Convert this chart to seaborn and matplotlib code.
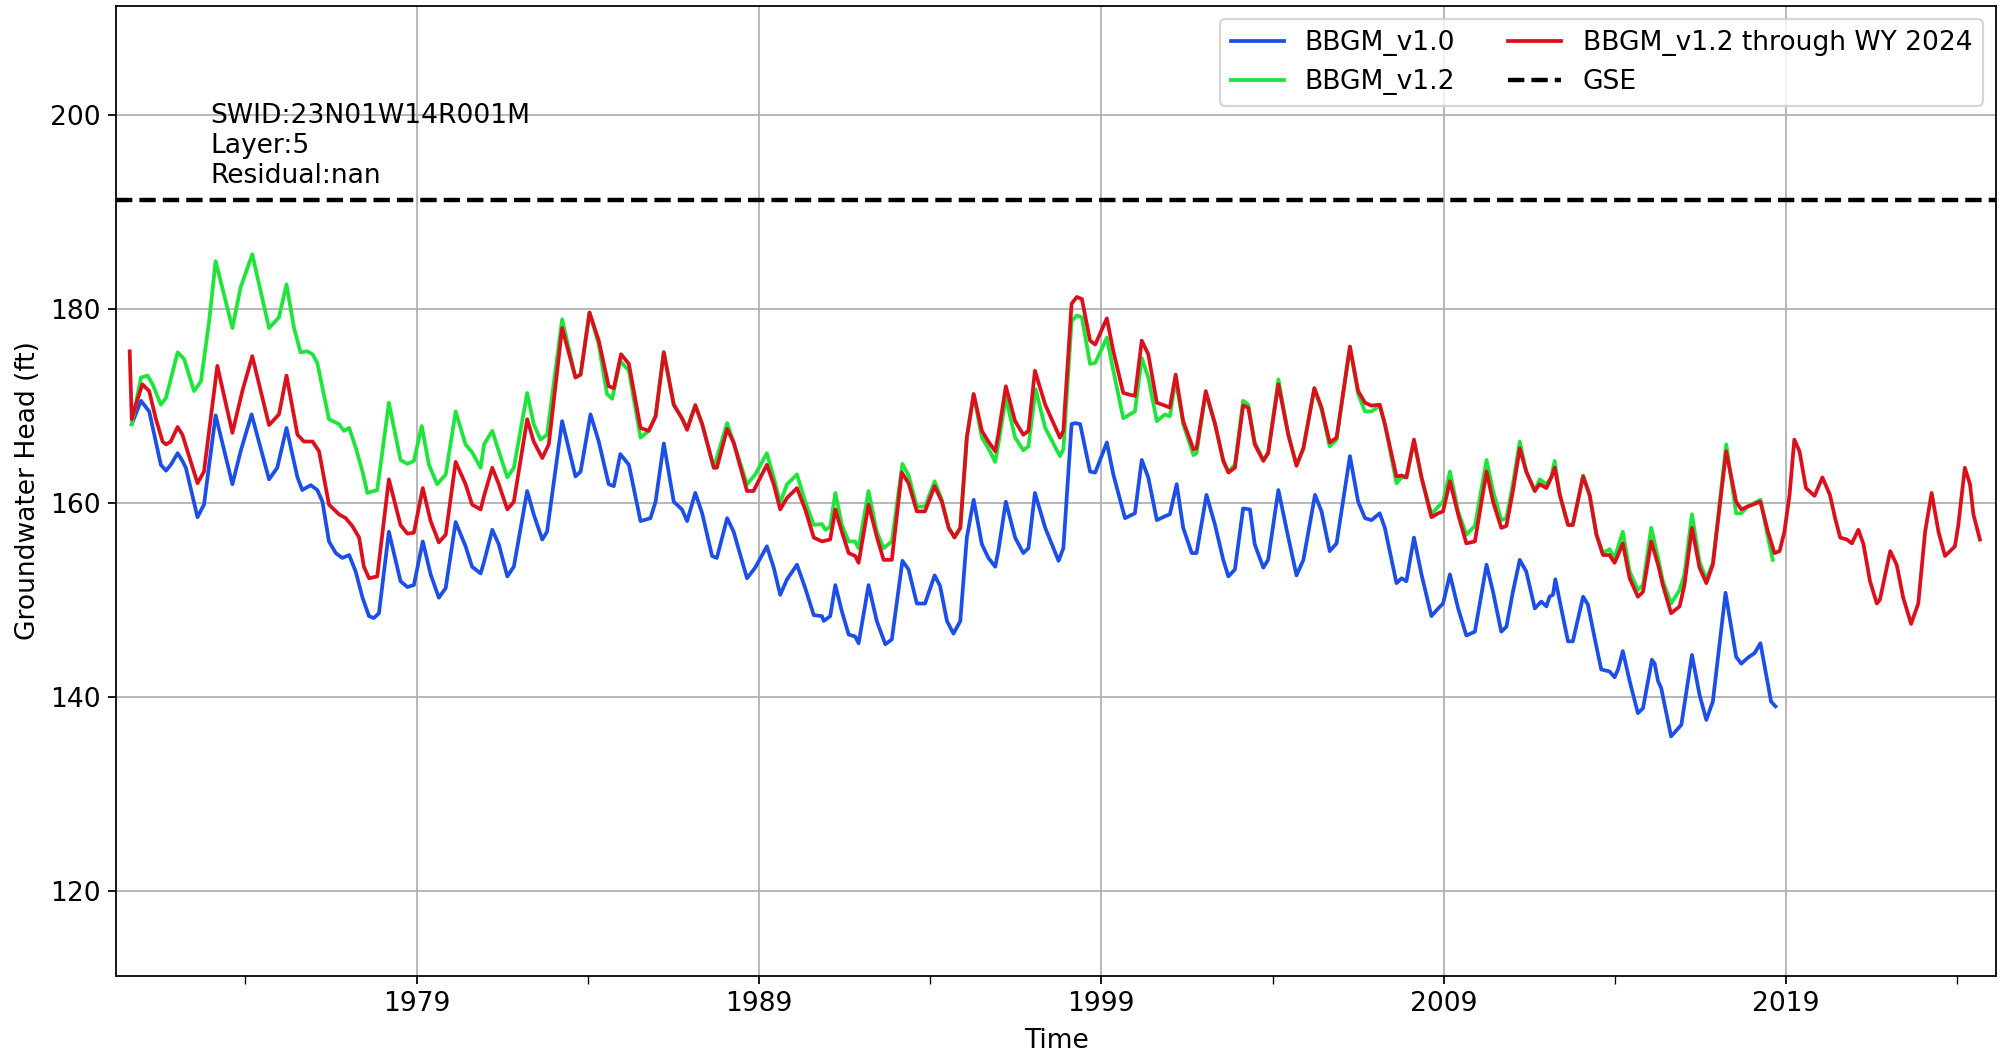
import numpy as np
import pandas as pd
import matplotlib
matplotlib.use("Agg")
import matplotlib.pyplot as plt
import seaborn as sns
from matplotlib.ticker import FixedLocator

# ---------------- data (decimal year, head in ft) ----------------
v10_t = [1970.68, 1970.95, 1971.19, 1971.53, 1971.68, 1971.82, 1972.02, 1972.16, 1972.26, 1972.60,
         1972.79, 1973.13, 1973.62, 1973.86, 1974.18, 1974.69, 1974.93, 1975.20, 1975.52, 1975.66,
         1975.91, 1976.10, 1976.25, 1976.44, 1976.64, 1976.83, 1977.03, 1977.22, 1977.42, 1977.61,
         1977.75, 1977.90, 1978.19, 1978.53, 1978.73, 1978.92, 1979.18, 1979.41, 1979.65, 1979.85,
         1980.14, 1980.43, 1980.62, 1980.87, 1980.97, 1981.21, 1981.40, 1981.65, 1981.84, 1982.23,
         1982.42, 1982.67, 1982.81, 1983.25, 1983.64, 1983.79, 1984.08, 1984.32, 1984.61, 1984.76,
         1984.95, 1985.20, 1985.54, 1985.83, 1985.98, 1986.22, 1986.51, 1986.75, 1986.90, 1987.14,
         1987.34, 1987.63, 1987.77, 1988.07, 1988.26, 1988.65, 1988.89, 1989.23, 1989.43, 1989.62,
         1989.82, 1990.11, 1990.35, 1990.60, 1990.84, 1990.89, 1991.08, 1991.23, 1991.42, 1991.62,
         1991.81, 1991.91, 1992.20, 1992.44, 1992.69, 1992.88, 1993.19, 1993.37, 1993.61, 1993.85,
         1994.13, 1994.29, 1994.49, 1994.68, 1994.88, 1995.07, 1995.27, 1995.51, 1995.70, 1995.90,
         1995.99, 1996.21, 1996.48, 1996.72, 1996.87, 1997.06, 1997.36, 1997.75, 1997.89, 1998.13,
         1998.23, 1998.38, 1998.67, 1998.82, 1999.16, 1999.35, 1999.69, 1999.98, 2000.18, 2000.37,
         2000.62, 2000.86, 2001.00, 2001.20, 2001.39, 2001.64, 2001.78, 2002.07, 2002.32, 2002.56,
         2002.71, 2002.90, 2003.14, 2003.34, 2003.48, 2003.73, 2003.87, 2004.17, 2004.46, 2004.70,
         2004.90, 2005.24, 2005.43, 2005.67, 2005.87, 2006.26, 2006.50, 2006.70, 2006.89, 2007.13,
         2007.28, 2007.62, 2007.77, 2007.91, 2008.13, 2008.35, 2008.64, 2008.84, 2008.98, 2009.18,
         2009.42, 2009.66, 2009.91, 2010.25, 2010.44, 2010.68, 2010.83, 2011.02, 2011.22, 2011.41,
         2011.66, 2011.85, 2012.00, 2012.09, 2012.19, 2012.26, 2012.39, 2012.63, 2012.77, 2013.07,
         2013.21, 2013.41, 2013.60, 2013.84, 2013.99, 2014.09, 2014.23, 2014.43, 2014.67, 2014.82,
         2015.08, 2015.16, 2015.26, 2015.35, 2015.64, 2015.84, 2015.94, 2016.25, 2016.47, 2016.67,
         2016.86, 2017.23, 2017.54, 2017.69, 2017.88, 2018.08, 2018.25, 2018.47, 2018.56, 2018.69]
v10_h = [168.1, 170.5, 169.4, 163.9, 163.3, 163.9, 165.1, 164.3, 163.6, 158.5,
         159.8, 169.0, 161.9, 165.3, 169.1, 162.4, 163.6, 167.7, 162.6, 161.3,
         161.8, 161.3, 160.1, 156.0, 154.8, 154.3, 154.6, 152.9, 150.2, 148.3,
         148.1, 148.6, 157.0, 151.9, 151.3, 151.5, 156.0, 152.6, 150.2, 151.2,
         158.0, 155.5, 153.4, 152.7, 153.9, 157.2, 155.7, 152.4, 153.4, 161.2,
         158.8, 156.2, 157.0, 168.4, 162.7, 163.2, 169.1, 166.3, 161.9, 161.7,
         165.0, 163.9, 158.1, 158.4, 160.1, 166.1, 160.1, 159.3, 158.1, 161.0,
         158.9, 154.5, 154.3, 158.4, 157.0, 152.2, 153.3, 155.5, 153.3, 150.5,
         152.1, 153.6, 151.2, 148.4, 148.3, 147.8, 148.3, 151.5, 148.8, 146.4,
         146.2, 145.5, 151.5, 147.8, 145.4, 145.9, 154.0, 153.1, 149.6, 149.6,
         152.5, 151.4, 147.8, 146.5, 147.8, 156.4, 160.3, 155.7, 154.3, 153.4,
         155.0, 160.1, 156.4, 154.8, 155.3, 161.0, 157.4, 154.0, 155.3, 168.1,
         168.2, 168.1, 163.2, 163.1, 166.2, 162.9, 158.4, 158.9, 164.4, 162.6,
         158.2, 158.6, 158.8, 161.9, 157.4, 154.8, 154.8, 160.8, 157.7, 154.1,
         152.4, 153.1, 159.4, 159.3, 155.7, 153.3, 154.1, 161.3, 156.4, 152.5,
         154.1, 160.8, 159.1, 155.0, 155.8, 164.8, 160.1, 158.4, 158.2, 158.9,
         157.4, 151.7, 152.2, 151.9, 156.4, 152.6, 148.3, 149.1, 149.6, 152.6,
         149.1, 146.3, 146.7, 153.6, 150.8, 146.7, 147.2, 150.8, 154.1, 152.9,
         149.1, 149.8, 149.3, 150.3, 150.5, 152.1, 149.8, 145.7, 145.7, 150.3,
         149.5, 146.0, 142.8, 142.6, 142.0, 142.8, 144.7, 141.6, 138.3, 138.8,
         143.8, 143.4, 141.6, 140.9, 135.9, 136.7, 137.1, 144.3, 140.2, 137.6,
         139.5, 150.7, 144.1, 143.4, 144.0, 144.5, 145.5, 141.2, 139.5, 139.0]

v12_t = [1970.68, 1970.95, 1971.14, 1971.29, 1971.53, 1971.68, 1972.02, 1972.21, 1972.50, 1972.70,
         1972.94, 1973.13, 1973.62, 1973.86, 1974.20, 1974.69, 1974.98, 1975.20, 1975.42, 1975.61,
         1975.81, 1975.96, 1976.10, 1976.44, 1976.73, 1976.88, 1977.03, 1977.22, 1977.42, 1977.56,
         1977.85, 1978.19, 1978.53, 1978.73, 1978.92, 1979.15, 1979.36, 1979.60, 1979.85, 1980.14,
         1980.43, 1980.62, 1980.87, 1980.97, 1981.21, 1981.40, 1981.65, 1981.84, 1982.23, 1982.42,
         1982.62, 1982.81, 1983.25, 1983.64, 1983.79, 1984.05, 1984.32, 1984.56, 1984.71, 1984.95,
         1985.20, 1985.54, 1985.78, 1985.98, 1986.22, 1986.51, 1986.75, 1986.90, 1987.14, 1987.34,
         1987.68, 1988.07, 1988.26, 1988.65, 1988.89, 1989.23, 1989.43, 1989.62, 1989.82, 1990.11,
         1990.35, 1990.60, 1990.84, 1990.94, 1991.08, 1991.23, 1991.42, 1991.62, 1991.81, 1991.91,
         1992.20, 1992.44, 1992.64, 1992.88, 1993.19, 1993.37, 1993.61, 1993.85, 1994.13, 1994.34,
         1994.54, 1994.71, 1994.88, 1995.07, 1995.27, 1995.51, 1995.70, 1995.90, 1995.99, 1996.21,
         1996.48, 1996.72, 1996.87, 1997.08, 1997.36, 1997.79, 1997.89, 1998.13, 1998.28, 1998.43,
         1998.67, 1998.82, 1999.16, 1999.35, 1999.64, 1999.98, 2000.18, 2000.37, 2000.62, 2000.86,
         2001.00, 2001.17, 2001.39, 2001.69, 2001.78, 2002.05, 2002.32, 2002.56, 2002.71, 2002.90,
         2003.14, 2003.29, 2003.48, 2003.73, 2003.87, 2004.17, 2004.46, 2004.70, 2004.90, 2005.22,
         2005.43, 2005.67, 2005.87, 2006.26, 2006.50, 2006.70, 2006.89, 2007.13, 2007.28, 2007.62,
         2007.77, 2007.91, 2008.13, 2008.35, 2008.64, 2008.84, 2008.98, 2009.18, 2009.42, 2009.66,
         2009.91, 2010.25, 2010.44, 2010.68, 2010.83, 2011.02, 2011.22, 2011.41, 2011.66, 2011.80,
         2012.00, 2012.14, 2012.24, 2012.39, 2012.63, 2012.77, 2013.07, 2013.26, 2013.46, 2013.65,
         2013.84, 2013.99, 2014.23, 2014.43, 2014.67, 2014.82, 2015.06, 2015.26, 2015.40, 2015.64,
         2015.89, 2016.03, 2016.25, 2016.47, 2016.67, 2016.86, 2017.25, 2017.54, 2017.69, 2017.88,
         2018.25, 2018.47, 2018.61]
v12_h = [168.1, 172.9, 173.1, 172.2, 170.1, 170.8, 175.5, 174.8, 171.5, 172.5,
         178.7, 184.9, 178.0, 182.2, 185.6, 178.0, 179.1, 182.5, 178.0, 175.5,
         175.6, 175.3, 174.4, 168.6, 168.1, 167.4, 167.7, 165.7, 163.2, 161.0,
         161.3, 170.3, 164.4, 164.0, 164.3, 167.9, 163.9, 161.9, 162.9, 169.4,
         166.0, 165.2, 163.6, 166.0, 167.4, 165.3, 162.6, 163.6, 171.3, 168.1,
         166.5, 167.0, 178.9, 172.9, 173.2, 179.6, 176.3, 171.2, 170.7, 174.6,
         173.6, 166.7, 167.4, 168.9, 175.5, 170.1, 168.7, 167.7, 170.1, 168.1,
         163.6, 168.2, 166.2, 161.9, 162.9, 165.1, 162.6, 160.0, 161.9, 162.9,
         160.1, 157.7, 157.8, 157.2, 157.5, 161.0, 157.7, 156.0, 156.0, 155.3,
         161.2, 157.0, 155.3, 156.0, 164.0, 162.8, 159.6, 159.6, 162.2, 160.3,
         157.4, 156.5, 157.4, 166.7, 171.2, 166.7, 165.6, 164.2, 166.0, 170.8,
         166.7, 165.4, 165.8, 171.7, 167.7, 164.8, 165.5, 178.7, 179.3, 179.1,
         174.3, 174.4, 177.0, 173.6, 168.7, 169.4, 174.9, 172.9, 168.4, 169.1,
         168.9, 172.7, 168.1, 164.9, 165.1, 171.3, 168.1, 164.4, 163.2, 163.9,
         170.5, 170.1, 166.2, 164.4, 165.1, 172.7, 167.0, 163.9, 165.6, 171.8,
         169.6, 165.8, 166.5, 176.0, 171.2, 169.4, 169.4, 170.0, 168.1, 162.0,
         162.6, 162.6, 166.3, 162.6, 158.8, 159.6, 160.1, 163.2, 159.1, 156.7,
         157.6, 164.4, 161.2, 158.2, 158.4, 161.9, 166.3, 163.2, 161.2, 162.4,
         161.9, 162.6, 164.3, 160.8, 157.7, 157.7, 162.8, 160.8, 156.7, 154.8,
         155.2, 154.3, 157.0, 152.9, 151.0, 151.5, 157.4, 154.3, 151.9, 149.6,
         151.0, 152.6, 158.8, 153.9, 152.1, 153.8, 166.0, 158.9, 158.9, 159.6,
         160.3, 156.4, 154.1]

wy24_t = [1970.62, 1970.68, 1970.80, 1970.99, 1971.19, 1971.38, 1971.58, 1971.68, 1971.82, 1972.02,
          1972.16, 1972.31, 1972.60, 1972.79, 1973.18, 1973.62, 1973.91, 1974.20, 1974.69, 1974.98,
          1975.20, 1975.52, 1975.71, 1975.96, 1976.15, 1976.44, 1976.73, 1976.93, 1977.12, 1977.32,
          1977.46, 1977.61, 1977.85, 1978.19, 1978.53, 1978.73, 1978.92, 1979.18, 1979.41, 1979.65,
          1979.85, 1980.14, 1980.43, 1980.62, 1980.87, 1980.97, 1981.21, 1981.40, 1981.65, 1981.84,
          1982.23, 1982.42, 1982.67, 1982.86, 1983.25, 1983.64, 1983.79, 1984.05, 1984.32, 1984.61,
          1984.76, 1984.97, 1985.20, 1985.54, 1985.78, 1985.98, 1986.22, 1986.51, 1986.75, 1986.90,
          1987.14, 1987.34, 1987.68, 1987.77, 1988.07, 1988.26, 1988.65, 1988.84, 1989.23, 1989.43,
          1989.62, 1989.82, 1990.11, 1990.35, 1990.60, 1990.84, 1991.08, 1991.23, 1991.42, 1991.62,
          1991.81, 1991.91, 1992.20, 1992.44, 1992.64, 1992.88, 1993.17, 1993.37, 1993.61, 1993.85,
          1994.13, 1994.34, 1994.54, 1994.71, 1994.88, 1995.07, 1995.27, 1995.51, 1995.70, 1995.90,
          1995.99, 1996.21, 1996.48, 1996.72, 1996.87, 1997.06, 1997.36, 1997.79, 1997.89, 1998.13,
          1998.28, 1998.43, 1998.67, 1998.82, 1999.16, 1999.35, 1999.64, 1999.98, 2000.18, 2000.37,
          2000.62, 2000.86, 2001.00, 2001.17, 2001.39, 2001.69, 2001.78, 2002.05, 2002.32, 2002.56,
          2002.71, 2002.90, 2003.14, 2003.29, 2003.48, 2003.73, 2003.87, 2004.17, 2004.46, 2004.70,
          2004.90, 2005.22, 2005.43, 2005.67, 2005.87, 2006.26, 2006.50, 2006.70, 2006.89, 2007.13,
          2007.28, 2007.62, 2007.77, 2007.91, 2008.13, 2008.35, 2008.64, 2008.84, 2008.98, 2009.18,
          2009.42, 2009.66, 2009.91, 2010.25, 2010.44, 2010.68, 2010.83, 2011.02, 2011.22, 2011.41,
          2011.66, 2011.80, 2012.00, 2012.14, 2012.24, 2012.39, 2012.63, 2012.77, 2013.07, 2013.26,
          2013.46, 2013.65, 2013.84, 2013.99, 2014.09, 2014.23, 2014.43, 2014.67, 2014.82, 2015.06,
          2015.26, 2015.40, 2015.64, 2015.89, 2016.03, 2016.25, 2016.47, 2016.67, 2016.86, 2017.25,
          2017.54, 2017.69, 2017.88, 2018.25, 2018.47, 2018.66, 2018.81, 2018.95, 2019.10, 2019.24,
          2019.39, 2019.58, 2019.83, 2020.06, 2020.28, 2020.43, 2020.58, 2020.77, 2020.92, 2021.11,
          2021.26, 2021.45, 2021.65, 2021.74, 2022.04, 2022.23, 2022.42, 2022.65, 2022.86, 2023.06,
          2023.25, 2023.45, 2023.64, 2023.79, 2023.93, 2024.03, 2024.22, 2024.37, 2024.47, 2024.66]
wy24_h = [175.6, 168.6, 170.1, 172.2, 171.5, 168.7, 166.3, 166.0, 166.3, 167.8,
          167.0, 165.3, 162.0, 163.2, 174.1, 167.2, 171.5, 175.1, 168.0, 169.1,
          173.1, 167.0, 166.3, 166.3, 165.3, 159.8, 158.8, 158.4, 157.6, 156.4,
          153.4, 152.2, 152.4, 162.4, 157.7, 156.8, 156.9, 161.5, 158.1, 155.9,
          156.7, 164.2, 161.9, 159.8, 159.3, 160.7, 163.6, 161.9, 159.3, 160.1,
          168.6, 166.3, 164.6, 166.0, 178.0, 172.9, 173.2, 179.6, 176.7, 172.0,
          171.8, 175.3, 174.3, 167.7, 167.4, 168.9, 175.5, 170.1, 168.7, 167.5,
          170.0, 168.1, 163.6, 163.6, 167.6, 166.2, 161.2, 161.2, 163.9, 161.9,
          159.3, 160.5, 161.5, 159.3, 156.4, 156.0, 156.2, 159.3, 157.0, 154.8,
          154.5, 153.8, 159.8, 156.5, 154.1, 154.1, 163.1, 162.0, 159.1, 159.1,
          161.7, 160.1, 157.4, 156.4, 157.4, 166.7, 171.2, 167.4, 166.3, 165.3,
          167.0, 172.0, 168.4, 167.0, 167.4, 173.6, 170.1, 166.7, 167.4, 180.5,
          181.2, 181.0, 176.7, 176.3, 179.0, 175.6, 171.3, 171.0, 176.7, 175.3,
          170.3, 170.0, 169.8, 173.2, 168.4, 165.5, 165.6, 171.5, 168.1, 164.3,
          163.1, 163.6, 170.0, 169.8, 166.0, 164.3, 165.1, 172.2, 167.0, 163.8,
          165.6, 171.8, 169.8, 166.2, 166.7, 176.1, 171.5, 170.3, 170.0, 170.1,
          168.1, 162.7, 162.8, 162.6, 166.5, 162.6, 158.5, 158.9, 159.1, 162.2,
          158.8, 155.8, 156.0, 163.2, 160.1, 157.4, 157.6, 161.2, 165.6, 163.2,
          161.2, 161.9, 161.5, 162.6, 163.6, 160.8, 157.7, 157.7, 162.7, 160.8,
          156.7, 154.6, 154.6, 153.8, 154.6, 155.8, 152.2, 150.3, 150.8, 156.0,
          153.6, 151.5, 148.6, 149.3, 151.5, 157.4, 153.3, 151.7, 153.6, 165.3,
          160.1, 159.3, 159.6, 160.1, 157.0, 154.8, 155.0, 157.0, 160.8, 166.5,
          165.3, 161.5, 160.7, 162.6, 160.8, 158.4, 156.4, 156.2, 155.8, 157.2,
          155.7, 151.9, 149.6, 150.0, 155.0, 153.6, 150.2, 147.5, 149.6, 157.0,
          161.0, 157.0, 154.5, 155.0, 155.5, 157.7, 163.6, 161.9, 158.8, 156.2]

gse = 191.2
major_years = [1979, 1989, 1999, 2009, 2019]
minor_years = [1974, 1984, 1994, 2004, 2014, 2024]
info_text = "SWID:23N01W14R001M\nLayer:5\nResidual:nan"

# ---------------- plotting ----------------
DPI = 159
fig = plt.figure(figsize=(2001 / DPI, 1058 / DPI), dpi=DPI)
ax = fig.add_axes([116 / 2001, 1 - 976 / 1058, (1996 - 116) / 2001, (976 - 6) / 1058])

plt.rcParams['font.family'] = ['DejaVu Sans']

series = [
    (v10_t, v10_h, "BBGM_v1.0", "#1c4fe8"),
    (v12_t, v12_h, "BBGM_v1.2", "#1ee43c"),
    (wy24_t, wy24_h, "BBGM_v1.2 through WY 2024", "#dc101c"),
]
for t, h, name, col in series:
    df = pd.DataFrame({"Time": t, "Head": h})
    sns.lineplot(data=df, x="Time", y="Head", ax=ax, color=col, label=name,
                 linewidth=1.7, estimator=None, sort=False)

ax.axhline(gse, color="black", linestyle="--", linewidth=2, label="GSE")

ax.text(0.05, 0.9, info_text, transform=ax.transAxes, va="top", ha="left", fontsize=12)

ax.set_xlim(1970.22, 2025.13)
ax.set_ylim(gse - 80, gse + 20)
ax.xaxis.set_major_locator(FixedLocator(major_years))
ax.xaxis.set_minor_locator(FixedLocator(minor_years))
ax.set_xticklabels([str(y) for y in major_years])
ax.set_yticks([120, 140, 160, 180, 200])
ax.tick_params(axis="both", which="major", labelsize=12, length=3.5)
ax.tick_params(axis="x", which="minor", length=3.5)
ax.grid(True, which="major", color="#b0b0b0", linewidth=0.8)
ax.set_axisbelow(True)
ax.set_xlabel("Time", fontsize=12, labelpad=5)
ax.set_ylabel("Groundwater Head (ft)", fontsize=12)
for s in ax.spines.values():
    s.set_color("black")
    s.set_linewidth(0.8)

ax.legend(loc="upper right", ncol=2, fontsize=12)

fig.savefig("out.png", dpi=DPI)
